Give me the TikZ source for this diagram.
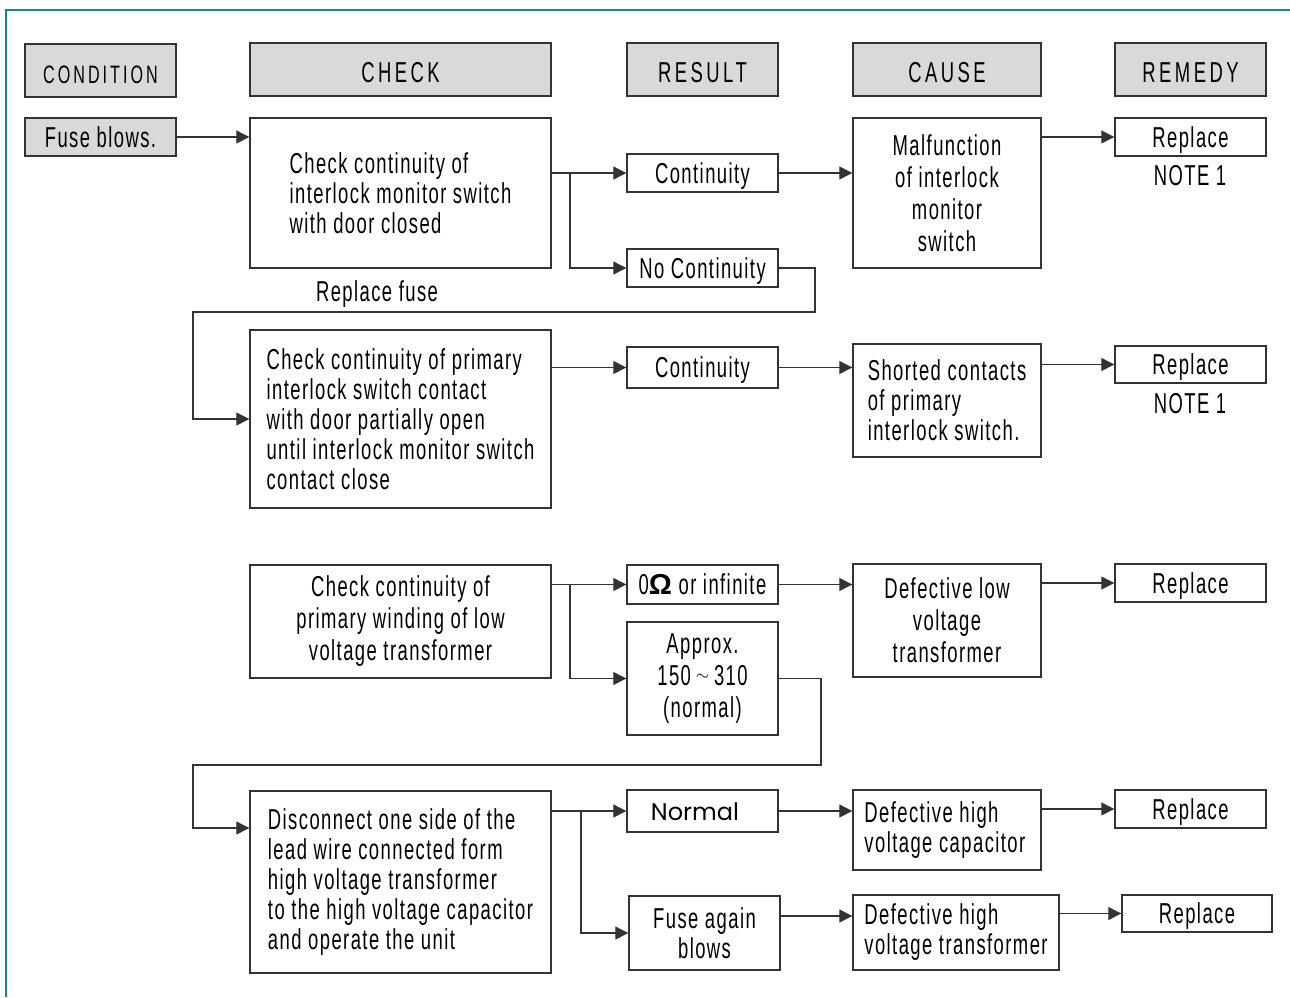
\documentclass[tikz,border=0pt]{standalone}
\usepackage{fontspec}
\setmainfont{Liberation Sans}[FakeStretch=0.64, LetterSpace=5]
\newfontfamily\hdrfont{Liberation Sans}[FakeStretch=0.64, LetterSpace=12]
\newfontfamily\gothic{Poppins}
\usetikzlibrary{arrows.meta}
\definecolor{hdrgray}{HTML}{D9D9D9}
\definecolor{frameblue}{HTML}{1683A3}
\definecolor{linegray}{HTML}{333333}
\newcommand\bodyfont{\fontsize{14.4}{15}\selectfont}
\tikzset{
  hdr/.style={draw=linegray, line width=0.7pt, fill=hdrgray, inner sep=0pt, text height=13pt, text depth=0pt, font=\hdrfont\fontsize{14.4}{16}\selectfont},
  box/.style={draw=linegray, line width=0.7pt, fill=white, inner sep=0pt, align=center, font=\bodyfont},
  one/.style={text depth=0pt},
  txt/.style={inner sep=0pt, align=left, font=\bodyfont},
  wide/.style={font=\fontsize{14.4}{16}\selectfont},
  arr/.style={draw=linegray, line width=0.6pt, -{Triangle[length=6.5pt,width=6.5pt]}},
}
\begin{document}
\begin{tikzpicture}[x=0.5pt,y=-0.5pt]
\useasboundingbox (0,0) rectangle (1290,997);
\draw[frameblue, line width=1pt] (1290,10) -- (6,10) -- (6,997);

% headers
\node[hdr, minimum width=75.5pt, minimum height=26.5pt, font=\hdrfont\fontsize{12.6}{15}\selectfont] (hcond) at (100.5,70.5) {CONDITION};
\node[hdr, minimum width=150.5pt, minimum height=26.5pt] (hcheck) at (400.5,69.5) {CHECK};
\node[hdr, minimum width=75.5pt, minimum height=26.5pt] (hresult) at (702.5,69.5) {RESULT};
\node[hdr, minimum width=94pt, minimum height=26.5pt] (hcause) at (947,69.5) {CAUSE};
\node[hdr, minimum width=75.5pt, minimum height=26.5pt] (hremedy) at (1190.5,69.5) {REMEDY};

% condition
\node[hdr, font=\bodyfont, text height=10.5pt, text depth=0pt, minimum width=75.5pt, minimum height=19pt] (fuse) at (100.5,137) {Fuse blows.};

% block 1
\node[box, minimum width=150.5pt, minimum height=75pt, align=left] (check1) at (400.5,193) {Check continuity of\\interlock monitor switch\\with door closed};
\node[box, one, minimum width=75.5pt, minimum height=19pt] (cont1) at (702.5,173) {Continuity};
\node[box, one, minimum width=75.5pt, minimum height=19pt] (nocont) at (702.5,268) {No Continuity};
\node[box, wide, minimum width=94pt, minimum height=75pt] (cause1) at (947,193) {Malfunction\\of interlock\\monitor\\switch};
\node[box, one, minimum width=75.5pt, minimum height=19pt] (rep1) at (1190.5,137) {Replace};
\node[txt] (note1) at (1190,176) {NOTE 1};

% block 2
\node[box, minimum width=150.5pt, minimum height=89pt, align=left] (check2) at (400.5,419) {Check continuity of primary\\interlock switch contact\\with door partially open\\until interlock monitor switch\\contact close};
\node[box, one, minimum width=75.5pt, minimum height=20.5pt] (cont2) at (702.5,367.5) {Continuity};
\node[box, minimum width=94pt, minimum height=56.5pt, align=left] (cause2) at (947,400.5) {Shorted contacts\\of primary\\interlock switch.};
\node[box, one, minimum width=75.5pt, minimum height=18.5pt] (rep2) at (1190.5,364.5) {Replace};
\node[txt] (note2) at (1190,404) {NOTE 1};
\node[txt] (repfuse) at (377,294) {Replace fuse};

% block 3
\node[box, wide, minimum width=150.5pt, minimum height=56.5pt] (check3) at (400.5,621.5) {Check continuity of\\primary winding of low\\voltage transformer};
\node[box, one, minimum width=75.5pt, minimum height=19.5pt] (res0) at (702.5,584.5) {0{\bfseries\fontspec{Liberation Sans}Ω} or infinite};
\node[box, wide, minimum width=75.5pt, minimum height=56.5pt] (approx) at (702.5,678.5) {Approx.\\150\,\raisebox{0.3ex}{\scalebox{0.6}{$\sim$}}\,310\\(normal)};
\node[box, wide, minimum width=94pt, minimum height=56.5pt] (cause3) at (947,620.5) {Defective low\\voltage\\transformer};
\node[box, one, minimum width=75.5pt, minimum height=19pt] (rep3) at (1190.5,583) {Replace};

% block 4
\node[box, minimum width=150.5pt, minimum height=91pt, align=left] (check4) at (400.5,882) {Disconnect one side of the\\lead wire connected form\\high voltage transformer\\to the high voltage capacitor\\and operate the unit};
\node[box, minimum width=75.5pt, minimum height=21pt] (normal) at (702.5,811) {};
\node[inner sep=0pt, font=\gothic\fontsize{12}{14}\selectfont] (normalt) at (695,812) {Normal};
\node[box, minimum width=75.5pt, minimum height=37pt] (fagain) at (704.5,933) {Fuse again\\blows};
\node[box, minimum width=94pt, minimum height=40pt] (cause4) at (947,830) {};
\node[txt, anchor=west] (cause4t) at (864,830) {Defective high\\voltage capacitor};
\node[box, minimum width=103pt, minimum height=37.5pt, align=left] (cause5) at (956,932.5) {Defective high\\voltage transformer};
\node[box, one, minimum width=75.5pt, minimum height=19pt] (rep4) at (1190.5,809) {Replace};
\node[box, one, minimum width=75pt, minimum height=18.5pt] (rep5) at (1197,913.5) {Replace};

% junction coordinates
\coordinate (b1) at (570,173);
\coordinate (r1) at (815,312);
\coordinate (l1) at (193,312);
\coordinate (b3) at (570,584.5);
\coordinate (r2) at (821,765);
\coordinate (l2) at (193,765);
\coordinate (l2b) at (193,828);
\coordinate (b4) at (581,811);

% connectors
\draw[arr] (fuse.east) -- (fuse.east -| check1.west);
\draw[arr] (check1.east |- cont1) -- (cont1.west);
\draw[arr] (b1) |- (nocont.west);
\draw[arr] (cont1.east) -- (cont1.east -| cause1.west);
\draw[arr] (cause1.east |- rep1) -- (rep1.west);
\draw[arr] (nocont.east) -| (r1) -- (l1) |- (check2.west);

\draw[arr] (check2.east |- cont2) -- (cont2.west);
\draw[arr] (cont2.east) -- (cont2.east -| cause2.west);
\draw[arr] (cause2.east |- rep2) -- (rep2.west);

\draw[arr] (check3.east |- res0) -- (res0.west);
\draw[arr] (b3) |- (approx.west);
\draw[arr] (res0.east) -- (res0.east -| cause3.west);
\draw[arr] (cause3.east |- rep3) -- (rep3.west);
\draw[arr] (approx.east) -| (r2) -- (l2) -- (l2b) -- (l2b -| check4.west);

\draw[arr] (check4.east |- normal) -- (normal.west);
\draw[arr] (b4) |- (fagain.west);
\draw[arr] (normal.east) -- (normal.east -| cause4.west);
\draw[arr] (cause4.east |- rep4) -- (rep4.west);
\draw[arr] ([yshift=8.5pt]fagain.east) -- ([yshift=8.5pt]fagain.east -| cause5.west);
\draw[arr] (cause5.east |- rep5) -- (rep5.west);
\end{tikzpicture}
\end{document}
